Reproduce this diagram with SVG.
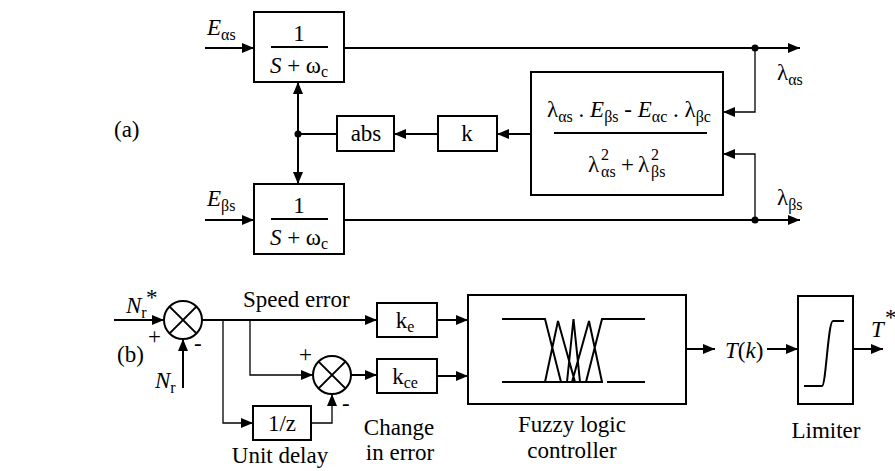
<svg xmlns="http://www.w3.org/2000/svg" width="895" height="471" viewBox="0 0 895 471">
<style>
text{font-family:'Liberation Serif','Times New Roman',serif;font-size:23px;fill:#000}
.it{font-style:italic}
.sub{font-size:16px}
.b{fill:#fff;stroke:#000;stroke-width:2}
.w{fill:none;stroke:#000;stroke-width:2}
.t{fill:none;stroke:#000;stroke-width:1.3}
.m{text-anchor:middle}
</style>
<defs>
<marker id="ar" markerUnits="userSpaceOnUse" markerWidth="13" markerHeight="10" refX="12" refY="5" orient="auto">
<path d="M0,0 L12,5 L0,10 z" fill="#000"/>
</marker>
</defs>
<text x="114" y="137">(a)</text>
<text x="117" y="362">(b)</text>
<g id="conn">
<line class="w" x1="205" y1="48" x2="254" y2="48" marker-end="url(#ar)"/>
<line class="w" x1="344" y1="48" x2="800" y2="48" marker-end="url(#ar)"/>
<line class="w" x1="205" y1="220" x2="254" y2="220" marker-end="url(#ar)"/>
<line class="w" x1="344" y1="220" x2="800" y2="220" marker-end="url(#ar)"/>
<circle cx="755" cy="48" r="3.5"/>
<circle cx="755" cy="220" r="3.5"/>
<polyline class="t" points="755,48 755,112 723,112" marker-end="url(#ar)"/>
<polyline class="t" points="755,220 755,154 723,154" marker-end="url(#ar)"/>
<line class="w" x1="531" y1="134" x2="497" y2="134" marker-end="url(#ar)"/>
<line class="w" x1="438" y1="134" x2="394" y2="134" marker-end="url(#ar)"/>
<line class="w" x1="337" y1="134" x2="298" y2="134"/>
<circle cx="298" cy="134" r="3.5"/>
<line class="w" x1="298" y1="134" x2="298" y2="82" marker-end="url(#ar)"/>
<line class="w" x1="298" y1="134" x2="298" y2="184" marker-end="url(#ar)"/>
<line class="w" x1="114" y1="320" x2="164" y2="320" marker-end="url(#ar)"/>
<line class="w" x1="183" y1="388" x2="183" y2="339" marker-end="url(#ar)"/>
<line class="w" x1="202" y1="320" x2="377" y2="320" marker-end="url(#ar)"/>
<polyline class="t" points="250,320 250,375 313,375" marker-end="url(#ar)"/>
<polyline class="t" points="223,320 223,423 253,423" marker-end="url(#ar)"/>
<polyline class="t" points="311,423 332,423 332,394" marker-end="url(#ar)"/>
<line class="w" x1="351" y1="375" x2="377" y2="375" marker-end="url(#ar)"/>
<line class="w" x1="437" y1="320" x2="468" y2="320" marker-end="url(#ar)"/>
<line class="w" x1="437" y1="376" x2="468" y2="376" marker-end="url(#ar)"/>
<line class="w" x1="686" y1="349" x2="715" y2="349" marker-end="url(#ar)"/>
<line class="w" x1="767" y1="349" x2="798" y2="349" marker-end="url(#ar)"/>
<line class="w" x1="853" y1="349" x2="883" y2="349" marker-end="url(#ar)"/>
</g>
<g id="labels-a">
<text x="207" y="35"><tspan class="it">E</tspan><tspan class="sub" dy="5">αs</tspan></text>
<text x="207" y="206"><tspan class="it">E</tspan><tspan class="sub" dy="5">βs</tspan></text>
<text x="777" y="80">λ<tspan class="sub" dy="5">αs</tspan></text>
<text x="777" y="205">λ<tspan class="sub" dy="5">βs</tspan></text>
</g>
<g id="lpf1">
<rect class="b" x="254" y="12" width="90" height="70"/>
<line class="w" x1="271" y1="47" x2="328" y2="47"/>
<text class="m" x="299" y="41">1</text>
<text class="m" x="299" y="73"><tspan class="it">S</tspan> + ω<tspan class="sub" dy="4">c</tspan></text>
</g>
<g id="lpf2">
<rect class="b" x="254" y="184" width="90" height="70"/>
<line class="w" x1="271" y1="219" x2="328" y2="219"/>
<text class="m" x="299" y="213">1</text>
<text class="m" x="299" y="245"><tspan class="it">S</tspan> + ω<tspan class="sub" dy="4">c</tspan></text>
</g>
<g id="calc">
<rect class="b" x="531" y="72" width="192" height="123"/>
<line class="w" x1="554" y1="133" x2="707" y2="133"/>
<text class="m" x="629" y="117">λ<tspan class="sub" dy="5">αs</tspan><tspan dy="-5"> . </tspan><tspan class="it">E</tspan><tspan class="sub" dy="5">βs</tspan><tspan dy="-5"> - </tspan><tspan class="it">E</tspan><tspan class="sub" dy="5">αc</tspan><tspan dy="-5"> . λ</tspan><tspan class="sub" dy="5">βc</tspan></text>
<text x="588" y="172">λ</text>
<text class="sub" x="601" y="160">2</text>
<text class="sub" x="601" y="177">αs</text>
<text x="621" y="172">+</text>
<text x="638" y="172">λ</text>
<text class="sub" x="651" y="160">2</text>
<text class="sub" x="651" y="177">βs</text>
</g>
<g id="k">
<rect class="b" x="438" y="116" width="59" height="35"/>
<text class="m" x="467" y="141">k</text>
</g>
<g id="abs">
<rect class="b" x="337" y="116" width="57" height="35"/>
<text class="m" x="366" y="141">abs</text>
</g>
<g id="sum1">
<circle class="w" cx="183" cy="320" r="19"/>
<path class="w" d="M169.6,306.6 L196.4,333.4 M196.4,306.6 L169.6,333.4"/>
<text x="126" y="313"><tspan class="it">N</tspan><tspan class="sub" dy="5">r</tspan></text>
<text x="146" y="305">*</text>
<text x="148" y="344">+</text>
<text x="194" y="351">-</text>
<text x="155" y="388"><tspan class="it">N</tspan><tspan class="sub" dy="5">r</tspan></text>
<text x="243" y="307">Speed error</text>
</g>
<g id="sum2">
<circle class="w" cx="332" cy="375" r="19"/>
<path class="w" d="M318.6,361.6 L345.4,388.4 M345.4,361.6 L318.6,388.4"/>
<text x="299" y="362">+</text>
<text x="342" y="411">-</text>
</g>
<g id="delay">
<rect class="b" x="253" y="406" width="58" height="34"/>
<text class="m" x="282" y="431">1/z</text>
<text class="m" x="280" y="463">Unit delay</text>
</g>
<g id="ke">
<rect class="b" x="377" y="303" width="60" height="34"/>
<text class="m" x="405" y="328">k<tspan class="sub" dy="4">e</tspan></text>
</g>
<g id="kce">
<rect class="b" x="377" y="359" width="60" height="34"/>
<text class="m" x="405" y="384">k<tspan class="sub" dy="4">ce</tspan></text>
<text class="m" x="399" y="435">Change</text>
<text class="m" x="400" y="460">in error</text>
</g>
<g id="flc">
<rect class="b" x="468" y="295" width="218" height="109"/>
<path class="w" d="M502,319 H545 L561,382 M502,382 H603 M607,382 H645 M545,382 L558,321 L575,382 M567,382 L573.5,319 L580,382 M572,382 L589,321 L602,382 M586,382 L602,319 H645"/>
<text class="m" x="572" y="432">Fuzzy logic</text>
<text class="m" x="572" y="458">controller</text>
</g>
<g id="tk">
<text x="725" y="358"><tspan class="it">T</tspan>(<tspan class="it">k</tspan>)</text>
</g>
<g id="limiter">
<rect class="b" x="798" y="296" width="55" height="108"/>
<path class="w" d="M804,386 H822 C826,386 828,321 833,321 H844"/>
<text class="m" x="826" y="438">Limiter</text>
</g>
<g id="tstar">
<text class="it" x="871" y="337">T</text>
<text x="885" y="325">*</text>
</g>
</svg>
